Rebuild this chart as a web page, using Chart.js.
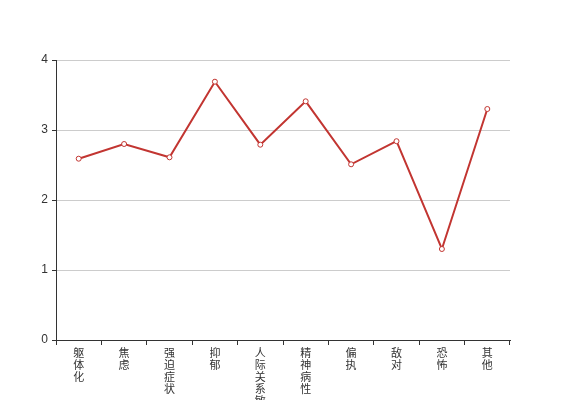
<!DOCTYPE html>
<html>
<head>
<meta charset="utf-8">
<script src="https://cdn.jsdelivr.net/npm/chart.js@4"></script>
<style>
html,body{margin:0;padding:0;background:#fff;}
#wrap{width:567px;height:400px;position:relative;}
</style>
</head>
<body>
<div id="wrap"><canvas id="c" width="567" height="400"></canvas></div>
<script>
const categories = ['躯体化','焦虑','强迫症状','抑郁','人际关系敏感','精神病性','偏执','敌对','恐怖','其他'];
const values = [2.59, 2.80, 2.61, 3.69, 2.79, 3.41, 2.51, 2.84, 1.30, 3.30];
const yTicks = [0, 1, 2, 3, 4];

const FONT = "'Liberation Sans', 'Noto Sans CJK SC', sans-serif";
new Chart(document.getElementById('c'), {
  type: 'line',
  data: {
    labels: categories,
    datasets: [{
      data: values,
      borderColor: '#c23531',
      backgroundColor: '#ffffff',
      borderWidth: 2,
      pointRadius: 2.5,
      pointBorderWidth: 1,
      pointBackgroundColor: '#ffffff',
      pointBorderColor: '#c23531',
      tension: 0,
      fill: false
    }]
  },
  options: {
    responsive: false,
    animation: false,
    layout: { padding: { top: 60, right: 57, left: 0, bottom: 0 } },
    plugins: { legend: { display: false }, tooltip: { enabled: false } },
    scales: {
      x: {
        offset: true,
        afterFit: (s) => { s.height = 60; },
        grid: { offset: true, drawOnChartArea: false, tickLength: 5, tickColor: '#333', color: '#333' },
        border: { color: '#333', width: 1 },
        ticks: {
          color: '#333',
          font: { family: FONT, size: 11, lineHeight: 1.1 },
          padding: 3,
          maxRotation: 0,
          autoSkip: false,
          callback: function (v, i) { return categories[i].split(''); }
        }
      },
      y: {
        min: 0,
        max: 4,
        afterFit: (s) => { s.width = 56; },
        afterBuildTicks: (s) => { s.ticks = yTicks.map(v => ({ value: v })); },
        grid: { color: '#cccccc', tickColor: '#333', tickLength: 4 },
        border: { color: '#333', width: 1 },
        ticks: {
          color: '#333',
          font: { family: FONT, size: 12 },
          padding: 4
        }
      }
    }
  }
});
</script>
</body>
</html>
